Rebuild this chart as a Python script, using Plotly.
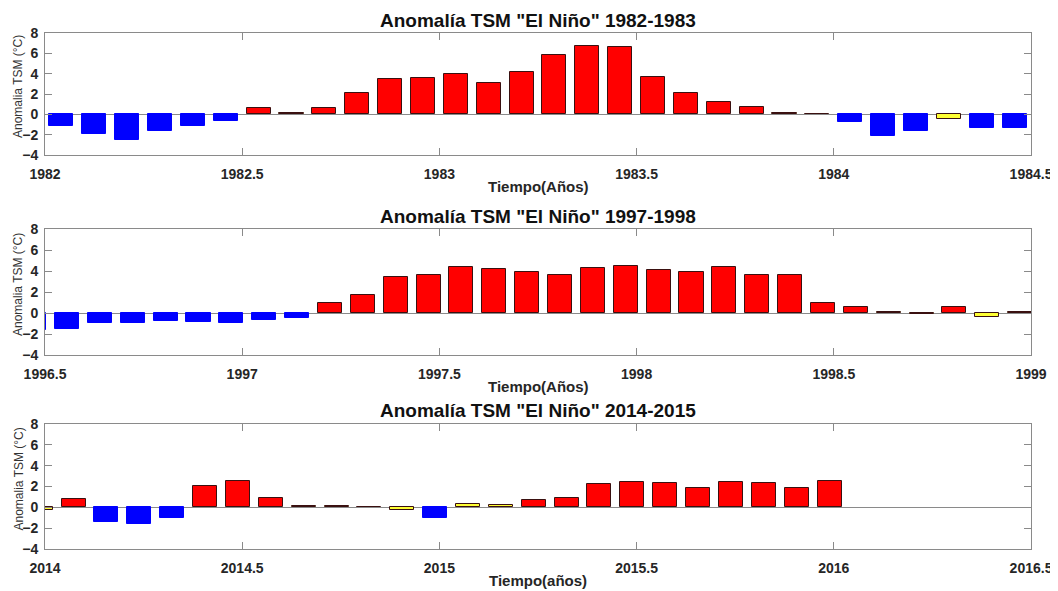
import plotly.graph_objects as go

# la pagina deja 8 px de margen en el body: la figura es 8 px mas chica
PAGE_W, PAGE_H, OFF = 1058, 591, 8
W, H = PAGE_W - OFF, PAGE_H - OFF

# Anomalia TSM mensual (°C)
anom_1982 = [-1.18, -1.9, -2.56, -1.67, -1.18, -0.62, 0.62, 0.1, 0.62, 2.1,
             3.44, 3.54, 3.97, 3.05, 4.13, 5.8, 6.72, 6.59, 3.64, 2.1,
             1.25, 0.75, 0.15, 0.02, -0.75, -2.16, -1.67, -0.45, -1.38, -1.38]
anom_1997 = [-1.6, -1.5, -0.97, -0.95, -0.75, -0.85, -0.95, -0.7, -0.52, 1.0,
             1.7, 3.4, 3.65, 4.4, 4.2, 3.9, 3.6, 4.3, 4.45, 4.1,
             3.9, 4.35, 3.6, 3.65, 0.95, 0.6, 0.05, -0.1, 0.55, -0.4, 0.05]
anom_2014 = [-0.23, 0.82, -1.44, -1.57, -1.05, 2.07, 2.49, 0.92, 0.16, 0.16,
             0.02, -0.3, -0.98, 0.36, 0.23, 0.69, 0.92, 2.23, 2.43, 2.33,
             1.84, 2.43, 2.33, 1.87, 2.52]

# inicio del eje y desfase (en meses) de la primera barra
starts = [1982.0, 1996.5, 2014.0]
first_month = [0.5, -0.33, -0.13]

ticks_1982 = ["1982", "1982.5", "1983", "1983.5", "1984", "1984.5"]
ticks_1997 = ["1996.5", "1997", "1997.5", "1998", "1998.5", "1999"]
ticks_2014 = ["2014", "2014.5", "2015", "2015.5", "2016", "2016.5"]

titles = ['Anomalía TSM "El Niño" 1982-1983',
          'Anomalía TSM "El Niño" 1997-1998',
          'Anomalía TSM "El Niño" 2014-2015']
xtitles = ["Tiempo(Años)", "Tiempo(Años)", "Tiempo(años)"]
ytitle = "Anomalia TSM (°C)"

# posiciones en pixeles de la pagina: (arriba, abajo) de cada panel
panel_px = [(33, 155), (229, 355), (424, 549)]
x_left, x_right = 45, 1031

FONT = "Liberation Sans, Arial, sans-serif"
AXIS_GRAY = "#8a8a8a"
TEXT = "#262626"


def px(x):
    return (x - OFF) / W


def py(y):
    return 1 - (y - OFF) / H


def bar_color(v):
    if v >= 0.5:
        return "#ff0000"
    if v <= -0.5:
        return "#0000ff"
    return "#ffff33"


def edge_color(v):
    return "#0000ff" if v <= -0.5 else "#3a1010"


fig = go.Figure()
series = [anom_1982, anom_1997, anom_2014]
tick_sets = [ticks_1982, ticks_1997, ticks_2014]

annotations = []
for i, vals in enumerate(series):
    n = "" if i == 0 else str(i + 1)
    xs = [starts[i] + (first_month[i] + k) / 12 for k in range(len(vals))]
    fig.add_trace(go.Bar(
        x=xs, y=vals, xaxis="x" + n, yaxis="y" + n,
        width=0.061,
        marker=dict(color=[bar_color(v) for v in vals],
                    line=dict(color=[edge_color(v) for v in vals], width=1)),
        showlegend=False,
    ))
    top, bot = panel_px[i]
    fig.update_layout(**{
        "xaxis" + n: dict(
            domain=[px(x_left), px(x_right)], anchor="y" + n,
            range=[starts[i], starts[i] + 2.5], automargin=False,
            tickmode="array",
            tickvals=[starts[i] + 0.5 * k for k in range(len(tick_sets[i]))],
            ticktext=tick_sets[i],
            ticks="inside", ticklen=7, tickcolor=AXIS_GRAY,
            showline=True, linecolor=AXIS_GRAY, linewidth=1, mirror="ticks",
            showgrid=False, zeroline=False, ticklabelstandoff=6,
            tickfont=dict(family=FONT, size=14, color=TEXT, weight="bold"),
        ),
        "yaxis" + n: dict(
            domain=[py(bot), py(top)], anchor="x" + n,
            range=[-4, 8], automargin=False,
            tickmode="array", tickvals=[-4, -2, 0, 2, 4, 6, 8],
            ticks="inside", ticklen=7, tickcolor=AXIS_GRAY,
            showline=True, linecolor=AXIS_GRAY, linewidth=1, mirror="ticks",
            showgrid=False, zeroline=True, zerolinecolor=AXIS_GRAY, zerolinewidth=1,
            ticklabelstandoff=3,
            tickfont=dict(family=FONT, size=14, color=TEXT, weight="bold"),
        ),
    })
    cx = px((x_left + x_right) / 2)
    annotations.append(dict(text=titles[i], x=cx, y=py(top - 13), xref="paper", yref="paper",
                            showarrow=False, xanchor="center", yanchor="middle",
                            font=dict(family=FONT, size=19, color="#111111", weight="bold")))
    annotations.append(dict(text=xtitles[i], x=cx, y=py(bot + 31), xref="paper", yref="paper",
                            showarrow=False, xanchor="center", yanchor="middle",
                            font=dict(family=FONT, size=15, color=TEXT, weight="bold")))
    annotations.append(dict(text=ytitle, x=px(18), y=py((top + bot) / 2 - 7), xref="paper", yref="paper",
                            showarrow=False, xanchor="center", yanchor="middle", textangle=-90,
                            font=dict(family=FONT, size=12, color="#333333")))

fig.update_layout(
    width=W, height=H,
    margin=dict(l=0, r=0, t=0, b=0, autoexpand=False),
    paper_bgcolor="white", plot_bgcolor="white",
    bargap=0, annotations=annotations,
)

fig.write_html("out.html")
